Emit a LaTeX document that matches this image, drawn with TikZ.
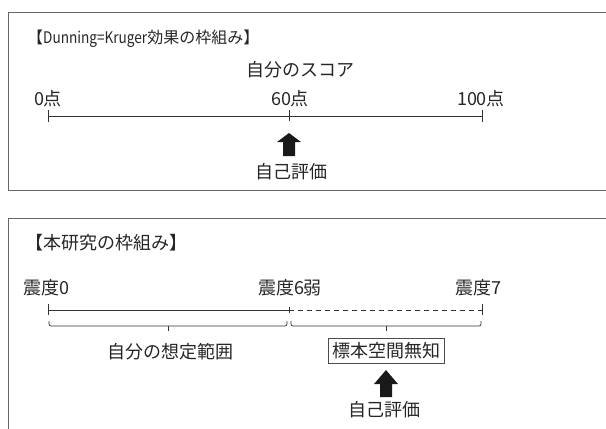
\documentclass[tikz,border=0pt]{standalone}
\usepackage{fontspec}
\setmainfont{Noto Sans CJK JP}
\newfontfamily\narrowlatin[FakeStretch=0.85]{Noto Sans CJK JP}
\begin{document}
\begin{tikzpicture}[x=1pt,y=-1pt,
  lbl/.style={inner sep=0pt,font=\fontsize{18}{20}\selectfont,text=black!85},
  smalltitle/.style={inner sep=0pt,font=\fontsize{16}{18}\selectfont,text=black!85},
  frame/.style={draw=black!60,line width=0.9pt},
  axis/.style={draw=black!80,line width=0.7pt},
  tickmark/.style={draw=black!80,line width=0.7pt},
  bigarrow/.style={fill=black!90,draw=none},
  boxed/.style={draw=black!70,line width=0.7pt,inner xsep=4pt,inner ysep=4pt,font=\fontsize{18}{20}\selectfont,text=black!85}]
\useasboundingbox (0,0) rectangle (606,429);
% frames
\draw[frame] (606,12) -- (8,12) -- (8,190) -- (606,190);
\draw[frame] (606,218) -- (8,218) -- (8,429);
% ---------- top panel
\node[smalltitle,anchor=west] (t1) at (27,39) {【{\narrowlatin Dunning=Kruger}効果の枠組み】};
\node[lbl] (score) at (300,70) {自分のスコア};
\node[lbl] (p0) at (48,99) {0点};
\node[lbl] (p60) at (290,99) {60点};
\node[lbl] (p100) at (481,99) {100点};
\coordinate (a0) at (48,116);
\coordinate (a60) at (289,116);
\coordinate (a100) at (482,116);
\draw[axis] (a0) -- (a100);
\draw[tickmark] ([yshift=-6]a0) -- ([yshift=6]a0);
\draw[tickmark] ([yshift=-5]a60) -- ([yshift=6]a60);
\draw[tickmark] ([yshift=-6]a100) -- ([yshift=6]a100);
\coordinate (up1) at (289,133);
\fill[bigarrow] (up1) -- ++(12,9) -- ++(-6,0) -- ++(0,14) -- ++(-12,0) -- ++(0,-14) -- ++(-6,0) -- cycle;
\node[lbl] (self1) at (291,172) {自己評価};
% ---------- bottom panel
\node[lbl,anchor=west] (t2) at (25,243) {【本研究の枠組み】};
\node[lbl] (s0) at (46,288) {震度0};
\node[lbl] (s6) at (290,288) {震度6弱};
\node[lbl] (s7) at (478,288) {震度7};
\coordinate (b0) at (48,310);
\coordinate (b6) at (289,310);
\coordinate (b7) at (482,310);
\draw[axis] (b0) -- (b6);
\draw[axis,dash pattern=on 5pt off 4pt] (b6) -- (b7);
\draw[tickmark] ([yshift=-5]b0) -- ([yshift=6]b0);
\draw[tickmark] ([yshift=-3]b6) -- ([yshift=3]b6);
\draw[tickmark] ([yshift=-5]b7) -- ([yshift=6]b7);
% braces
\draw[tickmark,rounded corners=2pt] (49,321) -- (49,326) -- (287,326) -- (287,321);
\draw[tickmark] (168,326) -- (168,331);
\draw[tickmark,rounded corners=2pt] (291,321) -- (291,326) -- (481,326) -- (481,321);
\draw[tickmark] (386,326) -- (386,331);
\node[lbl] (range) at (170,352) {自分の想定範囲};
\node[boxed] (ign) at (386,351) {標本空間無知};
\coordinate (up2) at (386,370);
\fill[bigarrow] (up2) -- ++(12,14) -- ++(-6,0) -- ++(0,13) -- ++(-12,0) -- ++(0,-13) -- ++(-6,0) -- cycle;
\node[lbl] (self2) at (384,410) {自己評価};
\end{tikzpicture}
\end{document}
